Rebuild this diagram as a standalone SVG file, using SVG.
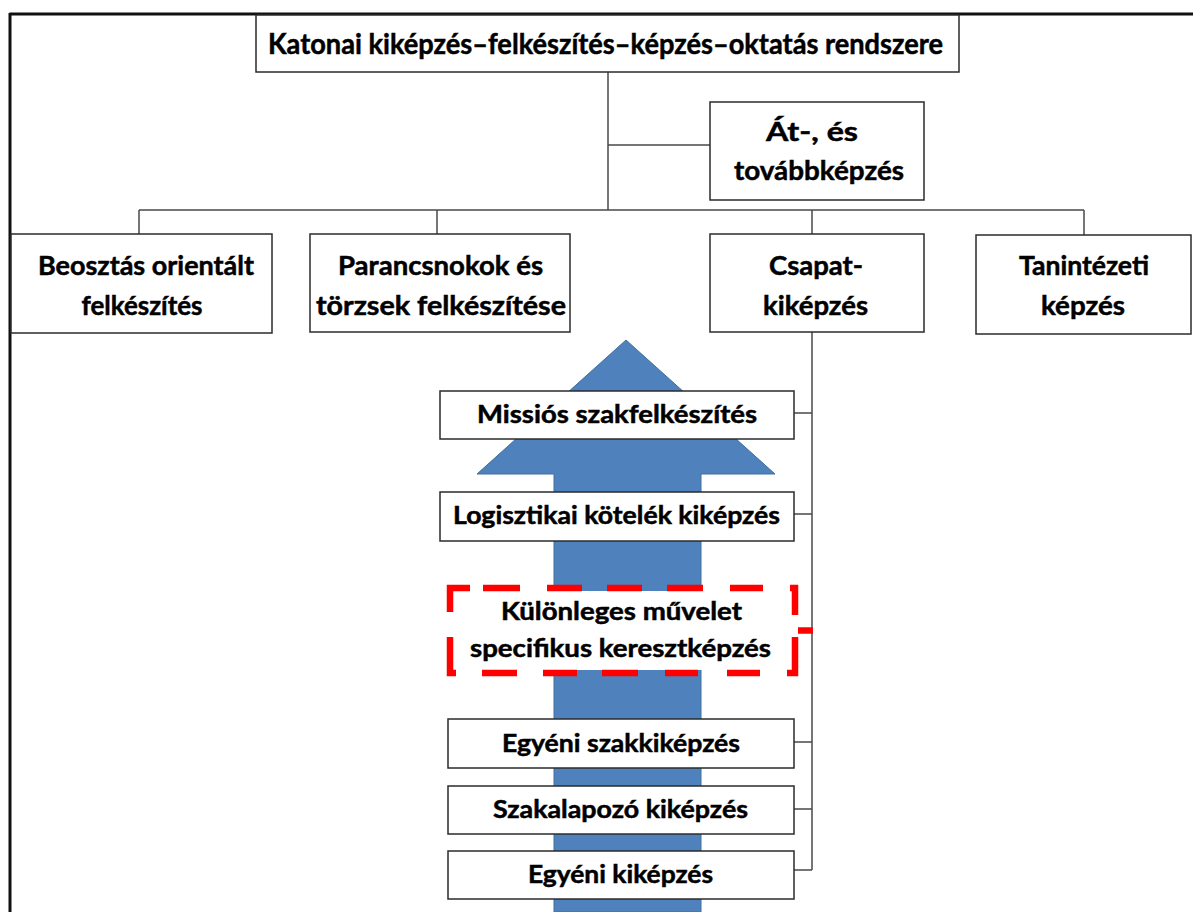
<svg xmlns="http://www.w3.org/2000/svg" width="1193" height="912" viewBox="0 0 1193 912">
<style>
.box{fill:#fff;stroke:#2b2b2b;stroke-width:1.5}
.t{font-family:Lato,"Liberation Sans",sans-serif;font-weight:bold;fill:#000;text-anchor:middle;stroke:#000;stroke-width:0.5}
.t29{font-size:29px}
.t26{font-size:27px}
.t23{font-size:24px}
.con{fill:none;stroke:#4a4a4a;stroke-width:1.5}
.red{fill:none;stroke:#ff0000;stroke-width:6.5;stroke-linecap:butt}
</style>
<rect x="0" y="0" width="1193" height="912" fill="#fff"/>
<g id="frame">
<path d="M9.5,14 H1193 M10,13 V912" fill="none" stroke="#111" stroke-width="3"/>
</g>
<g id="arrow">
<polygon points="626,340 775,474 701,474 701,912 554,912 554,474 477,474" fill="#4f81bd" stroke="#41719c" stroke-width="1"/>
</g>
<g id="connectors">
<path class="con" d="M608,72 V210 M608,145 H710 M139,210 H1084 M139,210 V234 M437,210 V234 M812,210 V234 M1084,210 V235 M812,332 V870 M794,413 H812 M794,514 H812 M794,742 H812 M794,809 H812 M794,870 H812"/>
<path class="red" d="M798,630.5 H813" stroke-width="7"/>
</g>
<g id="n-title">
<rect class="box" x="256" y="15" width="703" height="57"/>
<text class="t t29" x="605.5" y="54" textLength="675" lengthAdjust="spacingAndGlyphs">Katonai kiképzés–felkészítés–képzés–oktatás rendszere</text>
</g>
<g id="n-at">
<rect class="box" x="710" y="102" width="214" height="98"/>
<text class="t t26" x="812" y="141" textLength="92" lengthAdjust="spacingAndGlyphs">Át-, és</text>
<text class="t t26" x="819" y="180" textLength="170" lengthAdjust="spacingAndGlyphs">továbbképzés</text>
</g>
<g id="n-beosztas">
<rect class="box" x="11" y="234" width="261" height="99"/>
<text class="t t26" x="146" y="275" textLength="216" lengthAdjust="spacingAndGlyphs">Beosztás orientált</text>
<text class="t t26" x="142" y="315" textLength="121" lengthAdjust="spacingAndGlyphs">felkészítés</text>
</g>
<g id="n-parancsnokok">
<rect class="box" x="310" y="234" width="260" height="98"/>
<text class="t t26" x="440.5" y="275" textLength="205" lengthAdjust="spacingAndGlyphs">Parancsnokok és</text>
<text class="t t26" x="441" y="315" textLength="250" lengthAdjust="spacingAndGlyphs">törzsek felkészítése</text>
</g>
<g id="n-csapat">
<rect class="box" x="710" y="234" width="214" height="98"/>
<text class="t t26" x="816" y="275" textLength="94" lengthAdjust="spacingAndGlyphs">Csapat-</text>
<text class="t t26" x="815.5" y="315" textLength="105" lengthAdjust="spacingAndGlyphs">kiképzés</text>
</g>
<g id="n-tanintezeti">
<rect class="box" x="976" y="235" width="215" height="99"/>
<text class="t t26" x="1084" y="275" textLength="130" lengthAdjust="spacingAndGlyphs">Tanintézeti</text>
<text class="t t26" x="1083" y="315" textLength="84" lengthAdjust="spacingAndGlyphs">képzés</text>
</g>
<g id="n-missios">
<rect class="box" x="440" y="391" width="354" height="48"/>
<text class="t t23" x="617" y="423" textLength="280" lengthAdjust="spacingAndGlyphs">Missiós szakfelkészítés</text>
</g>
<g id="n-logisztikai">
<rect class="box" x="440" y="492" width="354" height="49"/>
<text class="t t23" x="616.5" y="524" textLength="327" lengthAdjust="spacingAndGlyphs">Logisztikai kötelék kiképzés</text>
</g>
<g id="n-kulonleges">
<rect x="447" y="591" width="351" height="79" fill="#fff"/>
<path class="red" d="M450,612 V588 H470 M483,588 H520 M547,588 H582 M607,588 H642 M667,588 H703 M730,588 H763 M790,588 H795 V615 M795,637 V673 H787 M450,637 V673 H456 M482,673 H517 M543,673 H577 M602,673 H638 M665,673 H698 M727,673 H760"/>
<text class="t t23" x="621.5" y="620" textLength="241" lengthAdjust="spacingAndGlyphs">Különleges művelet</text>
<text class="t t23" x="620.5" y="657" textLength="301" lengthAdjust="spacingAndGlyphs">specifikus keresztképzés</text>
</g>
<g id="n-egyeni-szak">
<rect class="box" x="448" y="719" width="346" height="49"/>
<text class="t t23" x="621" y="752" textLength="238" lengthAdjust="spacingAndGlyphs">Egyéni szakkiképzés</text>
</g>
<g id="n-szakalapozo">
<rect class="box" x="448" y="786" width="346" height="48"/>
<text class="t t23" x="620.5" y="818" textLength="255" lengthAdjust="spacingAndGlyphs">Szakalapozó kiképzés</text>
</g>
<g id="n-egyeni">
<rect class="box" x="448" y="851" width="346" height="48"/>
<text class="t t23" x="620.5" y="883" textLength="185" lengthAdjust="spacingAndGlyphs">Egyéni kiképzés</text>
</g>
</svg>
